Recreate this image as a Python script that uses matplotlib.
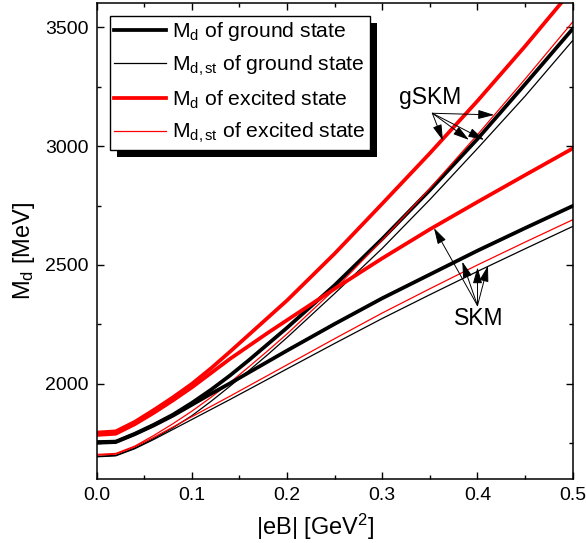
import numpy as np
import matplotlib
matplotlib.use('Agg')
import matplotlib.pyplot as plt
from matplotlib.ticker import MultipleLocator
from matplotlib.patches import Rectangle

plt.rcParams['font.family'] = ['Liberation Sans', 'DejaVu Sans']
plt.rcParams['mathtext.fontset'] = 'custom'
plt.rcParams['mathtext.rm'] = 'Liberation Sans'
plt.rcParams['mathtext.it'] = 'Liberation Sans'

# |eB| in GeV^2
eB = [0, 0.02, 0.04, 0.06, 0.08, 0.1, 0.12, 0.14, 0.16, 0.18, 0.2,
      0.25, 0.3, 0.35, 0.4, 0.45, 0.5]

# gSKM model (MeV)
gskm_ground_md = [1755, 1757, 1790, 1828, 1870, 1920, 1975, 2035, 2100, 2168, 2236,
                  2415, 2610, 2815, 3030, 3260, 3493]
gskm_ground_mdst = [1695, 1699, 1730, 1770, 1815, 1866, 1926, 1990, 2056, 2124, 2195,
                    2380, 2570, 2775, 2990, 3210, 3444]
gskm_excited_md = [1795, 1800, 1840, 1890, 1943, 2000, 2065, 2135, 2207, 2279, 2351,
                   2548, 2758, 2970, 3190, 3420, 3660]
gskm_excited_mdst = [1703, 1707, 1738, 1783, 1832, 1885, 1943, 2005, 2072, 2140, 2210,
                     2398, 2605, 2822, 3048, 3282, 3522]

# SKM model (MeV)
skm_ground_md = [1752, 1755, 1788, 1825, 1866, 1912, 1958, 2002, 2048, 2094, 2140,
                 2252, 2360, 2460, 2560, 2655, 2748]
skm_ground_mdst = [1693, 1697, 1727, 1766, 1808, 1850, 1892, 1934, 1977, 2020, 2063,
                   2170, 2275, 2375, 2473, 2568, 2662]
skm_excited_md = [1785, 1790, 1830, 1878, 1930, 1985, 2045, 2105, 2160, 2215, 2268,
                  2400, 2528, 2650, 2765, 2878, 2990]
skm_excited_mdst = [1700, 1704, 1735, 1775, 1818, 1862, 1905, 1948, 1992, 2036, 2080,
                    2190, 2298, 2400, 2500, 2596, 2690]

fig = plt.figure(figsize=(5.86, 5.43), dpi=100)
ax = fig.add_axes([0.165, 0.118, 0.8123, 0.8757])

thick = 2.7
thin = 0.9
ax.plot(eB, gskm_ground_md, color='k', lw=thick, label=r'M$_\mathregular{d}$ of ground state')
ax.plot(eB, gskm_ground_mdst, color='k', lw=thin, label=r'M$_\mathregular{d,st}$ of ground state')
ax.plot(eB, gskm_excited_md, color='r', lw=thick, label=r'M$_\mathregular{d}$ of excited state')
ax.plot(eB, gskm_excited_mdst, color='r', lw=thin, label=r'M$_\mathregular{d,st}$ of excited state')
ax.plot(eB, skm_ground_md, color='k', lw=thick)
ax.plot(eB, skm_ground_mdst, color='k', lw=thin)
ax.plot(eB, skm_excited_md, color='r', lw=thick)
ax.plot(eB, skm_excited_mdst, color='r', lw=thin)

ax.set_xlim(0, 0.5)
ax.set_ylim(1600, 3600)
ax.xaxis.set_major_locator(MultipleLocator(0.1))
ax.xaxis.set_minor_locator(MultipleLocator(0.05))
ax.yaxis.set_major_locator(MultipleLocator(500))
ax.yaxis.set_minor_locator(MultipleLocator(250))
ax.xaxis.set_major_formatter(plt.FormatStrFormatter('%.1f'))
ax.tick_params(which='both', direction='in', top=True, right=True, width=1.0)
ax.tick_params(which='major', length=5, labelsize=14, pad=6)
ax.tick_params(which='minor', length=3)
for s in ax.spines.values():
    s.set_linewidth(1.1)

ax.set_xlabel(r'|eB| [GeV$^\mathregular{2}$]', fontsize=17)
ax.set_ylabel(r'M$_\mathregular{d}$ [MeV]', fontsize=17)
ax.xaxis.set_label_coords(0.459, -0.07)
ax.yaxis.set_label_coords(-0.125, 0.48)

# arrows
arr = dict(arrowstyle='-|>,head_length=0.7,head_width=0.2', color='k', lw=0.7,
           mutation_scale=14, shrinkA=0, shrinkB=0)
g_from = (0.3526, 3138)
for tgt in [(0.4175, 3131), (0.3637, 3023), (0.391, 3026), (0.407, 3026)]:
    ax.annotate('', xy=tgt, xytext=g_from, arrowprops=arr)
s_from = (0.400, 2329)
for tgt in [(0.3543, 2655), (0.384, 2514), (0.400, 2490), (0.411, 2497)]:
    ax.annotate('', xy=tgt, xytext=s_from, arrowprops=arr)
ax.text(0.35, 3206, 'gSKM', fontsize=16.5, ha='center', va='center')
ax.text(0.401, 2275, 'SKM', fontsize=16.5, ha='center', va='center')

leg = ax.legend(loc='upper left', bbox_to_anchor=(0.028, 0.974), borderaxespad=0,
                fontsize=15.2, handlelength=2.45, handletextpad=0.28, labelspacing=0.5,
                borderpad=0.2, fancybox=False, framealpha=1, edgecolor='k')
leg.get_frame().set_linewidth(1.0)

# Origin-style black shadow behind the legend box
fig.canvas.draw()
bb = leg.get_window_extent()
inv = ax.transAxes.inverted()
(x0, y0), (x1, y1) = inv.transform([(bb.x0 + 7, bb.y0 - 7), (bb.x1 + 7, bb.y1 - 7)])
ax.add_patch(Rectangle((x0, y0), x1 - x0, y1 - y0, transform=ax.transAxes,
                       facecolor='k', edgecolor='none', zorder=4.9, clip_on=False))

fig.savefig('out.png', dpi=100)
